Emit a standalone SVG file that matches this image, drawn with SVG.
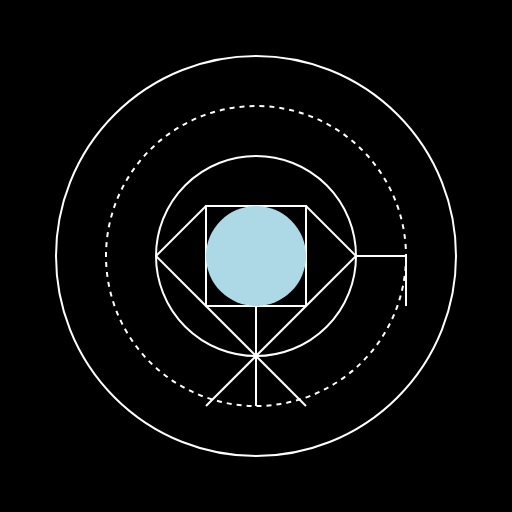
<svg xmlns="http://www.w3.org/2000/svg" width="512" height="512" viewBox="0 0 512 512">
<style>
.s{fill:none;stroke:#ffffff;stroke-width:2}
.d{stroke-dasharray:5,5}
</style>
<rect width="512" height="512" fill="#000000"/>
<g id="outer"><circle class="s" cx="256" cy="256" r="200"/></g>
<g id="dashed"><circle class="s d" cx="256" cy="256" r="150"/></g>
<g id="inner"><circle class="s" cx="256" cy="256" r="100"/></g>
<g id="square"><rect class="s" x="206" y="206" width="100" height="100"/></g>
<g id="core"><circle cx="256" cy="256" r="50" fill="#add8e6"/></g>
<g id="connectors" class="s">
<line x1="156" y1="256" x2="206" y2="206"/>
<line x1="306" y1="206" x2="356" y2="256"/>
<line x1="156" y1="256" x2="306" y2="406"/>
<line x1="356" y1="256" x2="206" y2="406"/>
<line x1="256" y1="306" x2="256" y2="406"/>
<polyline points="356,256 406,256 406,306"/>
</g>
</svg>
